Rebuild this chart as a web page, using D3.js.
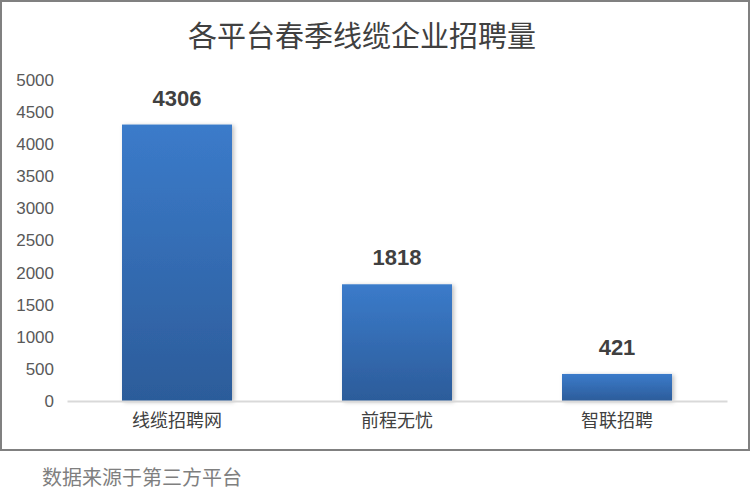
<!DOCTYPE html>
<html>
<head>
<meta charset="utf-8">
<script src="https://cdn.jsdelivr.net/npm/d3@7"></script>
<style>
body { margin: 0; background: #fff; }
text { font-family: "Noto Sans CJK SC", "Liberation Sans", sans-serif; }
</style>
</head>
<body>
<div class="chart"></div>
<script>
var categories = ["线缆招聘网", "前程无忧", "智联招聘"];
var values = [4306, 1818, 421];
var yTicks = [0, 500, 1000, 1500, 2000, 2500, 3000, 3500, 4000, 4500, 5000];

var W = 752, H = 498;
var plotLeft = 67, plotRight = 727, plotTop = 80, plotBottom = 401;

var svg = d3.select(".chart").append("svg")
    .attr("width", W)
    .attr("height", H);

var defs = svg.append("defs");
var grad = defs.append("linearGradient").attr("id", "barfill")
    .attr("x1", 0).attr("y1", 0).attr("x2", 0).attr("y2", 1);
grad.append("stop").attr("offset", "0%").attr("stop-color", "#3b7bca");
grad.append("stop").attr("offset", "100%").attr("stop-color", "#2c5c9a");

var shadow = defs.append("filter").attr("id", "shadow")
    .attr("x", "-10%").attr("y", "-10%").attr("width", "130%").attr("height", "130%");
shadow.append("feDropShadow").attr("dx", 2).attr("dy", 1).attr("stdDeviation", 2)
    .attr("flood-color", "#000").attr("flood-opacity", 0.25);

// frame
svg.append("rect")
    .attr("x", 1).attr("y", 1).attr("width", 748).attr("height", 449)
    .attr("fill", "#fff").attr("stroke", "#808080").attr("stroke-width", 2);

svg.append("text")
    .attr("x", 362).attr("y", 47)
    .attr("text-anchor", "middle")
    .attr("font-size", 29)
    .attr("fill", "#404040")
    .text("各平台春季线缆企业招聘量");

var x = d3.scaleBand().domain(categories).range([plotLeft, plotRight])
    .paddingInner(0.5).paddingOuter(0.25);
var y = d3.scaleLinear().domain([0, 5000]).range([plotBottom, plotTop]);

var yAxis = svg.append("g")
    .attr("transform", "translate(" + plotLeft + ",0)")
    .call(d3.axisLeft(y).tickValues(yTicks).tickFormat(d3.format("d")).tickSize(0).tickPadding(13));
yAxis.select(".domain").remove();
yAxis.selectAll("text")
    .attr("font-size", 17)
    .attr("fill", "#595959")
    .style("font-family", "'Liberation Sans', sans-serif");

svg.selectAll(".bar")
    .data(values)
    .enter().append("rect")
    .attr("class", "bar")
    .attr("x", function(d, i) { return x(categories[i]); })
    .attr("y", function(d) { return y(d); })
    .attr("width", x.bandwidth())
    .attr("height", function(d) { return plotBottom - y(d); })
    .attr("fill", "url(#barfill)")
    .attr("filter", "url(#shadow)");

var xAxis = svg.append("g")
    .attr("transform", "translate(0," + plotBottom + ")")
    .call(d3.axisBottom(x).tickSize(0).tickPadding(13));
xAxis.select(".domain").attr("stroke", "#d9d9d9").attr("stroke-width", 2);
xAxis.selectAll("text")
    .attr("font-size", 18)
    .attr("fill", "#404040");

svg.selectAll(".val")
    .data(values)
    .enter().append("text")
    .attr("class", "val")
    .attr("x", function(d, i) { return x(categories[i]) + x.bandwidth() / 2; })
    .attr("y", function(d) { return y(d) - 19; })
    .attr("text-anchor", "middle")
    .attr("font-size", 22)
    .attr("font-weight", "bold")
    .attr("fill", "#404040")
    .style("font-family", "'Liberation Sans', sans-serif")
    .text(function(d) { return d; });

svg.append("text")
    .attr("x", 42).attr("y", 485)
    .attr("font-size", 20)
    .attr("fill", "#7f7f7f")
    .text("数据来源于第三方平台");
</script>
</body>
</html>
